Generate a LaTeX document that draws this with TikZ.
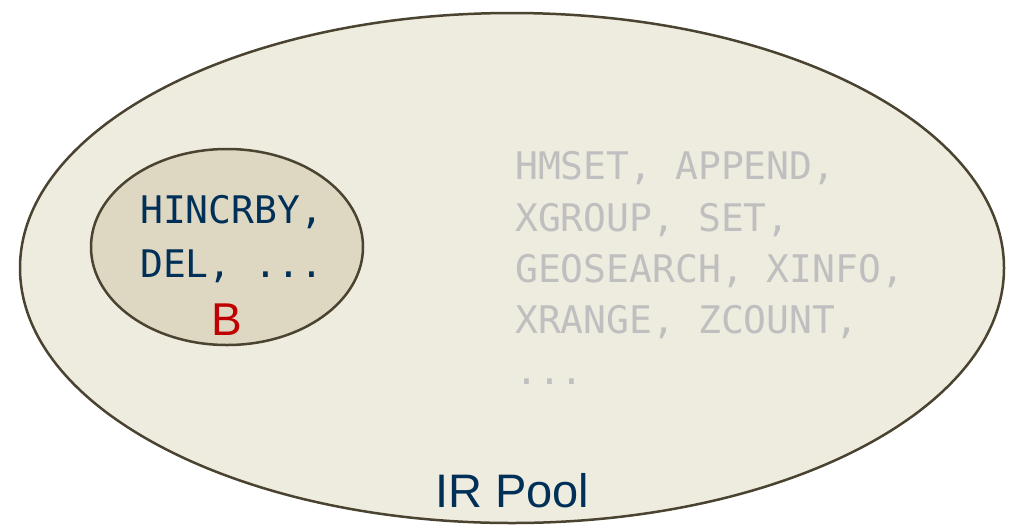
\documentclass[tikz,border=0pt]{standalone}
\usepackage{fontspec}
\setmainfont{Liberation Sans}
\newfontfamily\codefont{DejaVu Sans Mono}
\definecolor{poolfill}{RGB}{238,235,223}
\definecolor{bfill}{RGB}{222,216,195}
\definecolor{edge}{RGB}{74,67,48}
\definecolor{navy}{RGB}{0,48,87}
\definecolor{greytxt}{RGB}{191,191,191}
\definecolor{redb}{RGB}{192,0,0}
\tikzset{
  pool/.style={draw=edge, line width=2.5pt, fill=poolfill},
  bset/.style={draw=edge, line width=2.5pt, fill=bfill},
  codeline/.style={anchor=base west, inner sep=0pt, font=\codefont\fontsize{38}{42}\selectfont},
}
\begin{document}
\begin{tikzpicture}[x=1pt,y=-1pt]
\useasboundingbox (0,0) rectangle (1017,528);
\draw[pool] (512,268) ellipse [x radius=492, y radius=255];
\draw[bset] (227,247) ellipse [x radius=136, y radius=98];
\node[codeline, text=navy] (l1) at (140,223) {HINCRBY,};
\node[codeline, text=navy] (l2) at (140,277) {DEL, ...};
\node[anchor=base, inner sep=0pt, text=redb, font=\fontsize{46}{50}\selectfont] (b) at (227,335) {B};
\node[codeline, text=greytxt] (g1) at (515,179) {HMSET, APPEND,};
\node[codeline, text=greytxt] (g2) at (515,231) {XGROUP, SET,};
\node[codeline, text=greytxt] (g3) at (515,282) {GEOSEARCH, XINFO,};
\node[codeline, text=greytxt] (g4) at (515,333) {XRANGE, ZCOUNT,};
\node[codeline, text=greytxt] (g5) at (515,384) {...};
\node[anchor=base west, inner sep=0pt, text=navy, font=\fontsize{47}{50}\selectfont] (ir) at (435,507) {IR Pool};
\end{tikzpicture}
\end{document}
